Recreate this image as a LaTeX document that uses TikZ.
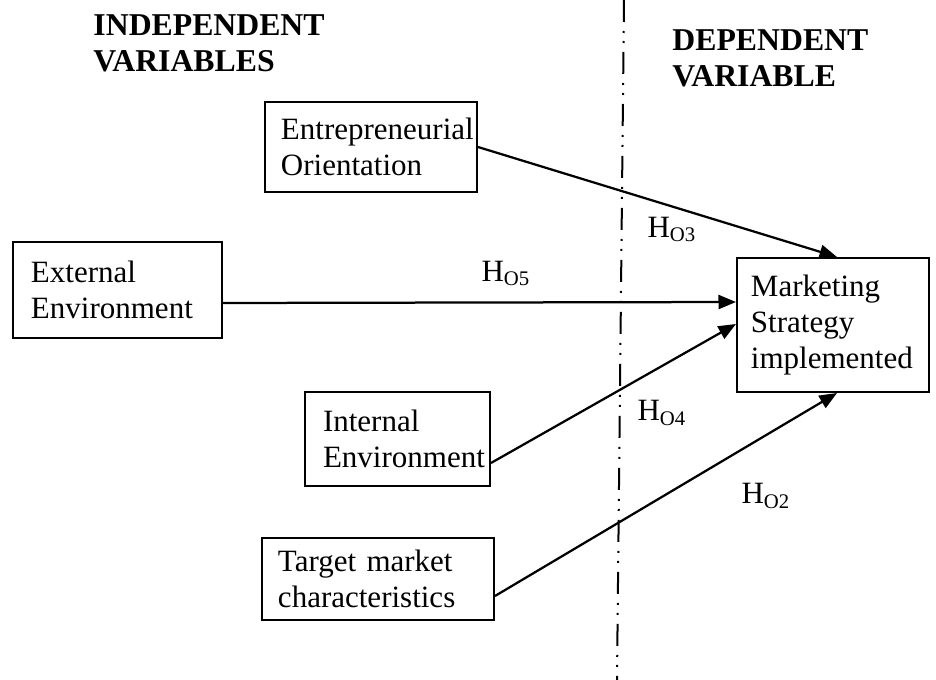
\documentclass[tikz,border=0pt]{standalone}
\usepackage{fontspec}
\setmainfont{Liberation Serif}
\usetikzlibrary{arrows.meta,calc}
\newcommand\hsub[1]{\raisebox{-0.35ex}{\fontsize{8.3}{8.3}\selectfont #1}}
\begin{document}
\begin{tikzpicture}[x=0.4pt,y=-0.4pt,
  every node/.style={font=\fontsize{12.4}{14.4}\selectfont},
  box/.style={draw,line width=0.8pt,rectangle,align=left,inner ysep=0pt,inner xsep=7.2pt},
  arr/.style={line width=0.9pt,-{Triangle[length=7pt,width=5.6pt]}},
  hlab/.style={anchor=base west,inner sep=0pt},
  title/.style={anchor=north west,inner sep=0pt,align=left,font=\fontsize{12.7}{14.4}\selectfont\bfseries},
  divider/.style={line width=0.8pt,dash pattern=on 8.8pt off 3.6pt on 0.8pt off 3.2pt on 0.8pt off 3.6pt}]
\useasboundingbox (0,0) rectangle (936,680);

% titles
\node[title] (indep) at (93,14) {INDEPENDENT\\VARIABLES};
\node[title] (dep) at (672,29) {DEPENDENT\\VARIABLE};

% divider
\coordinate (dtop) at (624,0);
\coordinate (dbot) at (617,680);
\draw[divider] (dtop) -- (dbot);

% boxes
\node[box, minimum width=84.8pt, minimum height=36pt, text width=72pt, inner xsep=6.4pt] (eo) at (371,147) {Entrepreneurial\\Orientation};
\node[box, minimum width=83.6pt, minimum height=38.4pt, text width=69.2pt] (ext) at (117.5,290) {External\\Environment};
\node[box, minimum width=74pt, minimum height=37.6pt, text width=59.6pt] (int) at (397.5,439) {Internal\\Environment};
\node[box, minimum width=92.8pt, minimum height=32.8pt, text width=80pt, inner xsep=6.4pt] (tm) at (378,579) {Target market\\characteristics};
\node[box, minimum width=76.8pt, minimum height=53.6pt, text width=65.6pt, inner xsep=5.6pt] (ms) at (833,325) {Marketing\\Strategy\\implemented};

% arrows
\draw[arr] (eo.east) -- ($(ms.north west)+(101,0)$);
\draw[arr] ($(ext.north east)+(0,62)$) -- ($(ms.north west)+(0,45)$);
\draw[arr] ($(int.south east)+(0,-24)$) -- ($(ms.north west)+(0,67)$);
\draw[arr] ($(tm.south east)+(0,-25)$) -- ($(ms.south west)+(101,0)$);

% labels
\node[hlab] (h3) at (647,237) {H\hsub{O3}};
\node[hlab] (h5) at (481,281) {H\hsub{O5}};
\node[hlab] (h4) at (637,421) {H\hsub{O4}};
\node[hlab] (h2) at (741,504) {H\hsub{O2}};
\end{tikzpicture}
\end{document}
